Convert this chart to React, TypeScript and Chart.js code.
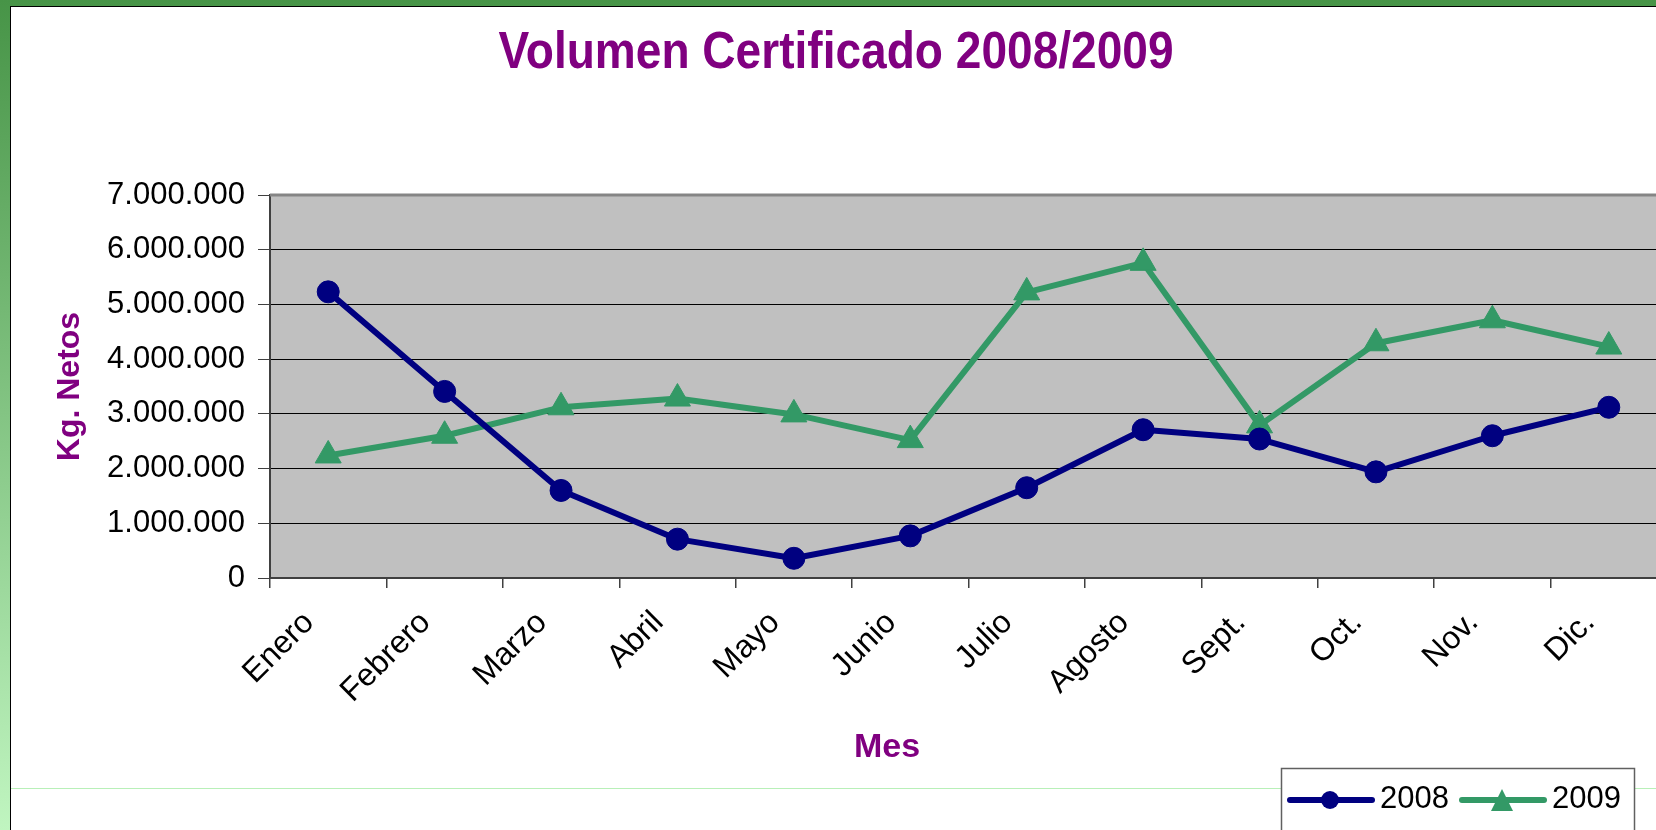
import React, { useEffect, useRef } from 'react';
import { Chart, registerables } from 'chart.js';

Chart.register(...registerables);

const months = ['Enero', 'Febrero', 'Marzo', 'Abril', 'Mayo', 'Junio', 'Julio', 'Agosto', 'Sept.', 'Oct.', 'Nov.', 'Dic.'];
const vol2008 = [5230000, 3410000, 1600000, 710000, 360000, 770000, 1650000, 2710000, 2540000, 1940000, 2600000, 3120000];
const vol2009 = [2240000, 2600000, 3120000, 3280000, 2990000, 2520000, 5220000, 5760000, 2790000, 4290000, 4710000, 4230000];
const seriesNames = ['2008', '2009'];
const yMin = 0;
const yMax = 7000000;
const yStep = 1000000;
const titleText = 'Volumen Certificado 2008/2009';
const yTitle = 'Kg. Netos';
const xTitle = 'Mes';

const FONT = '"Liberation Sans", Arial, Helvetica, sans-serif';
const NAVY = '#000080';
const GREEN = '#339966';
const PURPLE = '#800080';
const CW = 1700;
const CH = 823;

const fmt = (v: number) => String(Math.round(v)).replace(/\B(?=(\d{3})+(?!\d))/g, '.');

export default function App() {
  const ref = useRef<HTMLCanvasElement | null>(null);

  useEffect(() => {
    const canvas = ref.current;
    if (!canvas) return;

    const decor = {
      id: 'decor',
      beforeDraw(chart: any) {
        const { ctx, chartArea: a } = chart;
        ctx.save();
        ctx.fillStyle = '#c0c0c0';
        ctx.fillRect(a.left, a.top, a.right - a.left, a.bottom - a.top);
        ctx.restore();
      },
      beforeDatasetsDraw(chart: any) {
        const { ctx, chartArea: a } = chart;
        ctx.save();
        ctx.strokeStyle = '#858585';
        ctx.lineWidth = 3;
        ctx.beginPath();
        ctx.moveTo(a.left, a.top);
        ctx.lineTo(a.right, a.top);
        ctx.stroke();
        ctx.restore();
      },
      afterDraw(chart: any) {
        const ctx = chart.ctx as CanvasRenderingContext2D;
        // title
        ctx.save();
        ctx.fillStyle = PURPLE;
        ctx.font = `bold 52px ${FONT}`;
        ctx.textAlign = 'center';
        ctx.textBaseline = 'alphabetic';
        ctx.translate(825, 61);
        ctx.scale(0.886, 1);
        ctx.fillText(titleText, 0, 0);
        ctx.restore();

        // x axis title
        ctx.save();
        ctx.fillStyle = PURPLE;
        ctx.font = `bold 34px ${FONT}`;
        ctx.textAlign = 'center';
        ctx.textBaseline = 'alphabetic';
        ctx.fillText(xTitle, 876, 750);
        ctx.restore();

        // light green separator
        ctx.save();
        ctx.strokeStyle = '#b8f0b8';
        ctx.lineWidth = 1;
        ctx.beginPath();
        ctx.moveTo(0, 781.5);
        ctx.lineTo(CW, 781.5);
        ctx.stroke();
        ctx.restore();

        // legend box
        const bx = 1270, by = 761, bw = 353, bh = 90;
        ctx.save();
        ctx.fillStyle = '#ffffff';
        ctx.fillRect(bx, by, bw, bh);
        ctx.strokeStyle = '#606060';
        ctx.lineWidth = 1.5;
        ctx.strokeRect(bx + 0.5, by + 0.5, bw, bh);
        const ly = 793;
        chart.data.datasets.forEach((ds: any, i: number) => {
          const x0 = bx + 9 + i * 172;
          ctx.strokeStyle = ds.borderColor;
          ctx.lineWidth = 6;
          ctx.lineCap = 'round';
          ctx.beginPath();
          ctx.moveTo(x0, ly);
          ctx.lineTo(x0 + 82, ly);
          ctx.stroke();
          const cx = x0 + 40;
          ctx.fillStyle = ds.borderColor;
          ctx.beginPath();
          if (ds.pointStyle === 'triangle') {
            ctx.moveTo(cx, ly - 11);
            ctx.lineTo(cx + 11, ly + 11);
            ctx.lineTo(cx - 11, ly + 11);
            ctx.closePath();
          } else {
            ctx.arc(cx, ly, 9, 0, Math.PI * 2);
          }
          ctx.fill();
          ctx.fillStyle = '#000';
          ctx.font = `31px ${FONT}`;
          ctx.textAlign = 'left';
          ctx.textBaseline = 'alphabetic';
          ctx.fillText(ds.label, x0 + 90, 801);
        });
        ctx.restore();
      },
    };

    Chart.defaults.font.family = FONT;

    const chart = new Chart(canvas, {
      type: 'line',
      data: {
        labels: months,
        datasets: [
          {
            label: seriesNames[0],
            data: vol2008,
            borderColor: NAVY,
            backgroundColor: NAVY,
            borderWidth: 6,
            borderCapStyle: 'round',
            borderJoinStyle: 'round',
            pointStyle: 'circle',
            pointRadius: 11,
            pointBackgroundColor: NAVY,
            pointBorderColor: NAVY,
            pointBorderWidth: 1,
            tension: 0,
            fill: false,
          },
          {
            label: seriesNames[1],
            data: vol2009,
            borderColor: GREEN,
            backgroundColor: GREEN,
            borderWidth: 6,
            borderCapStyle: 'round',
            borderJoinStyle: 'round',
            pointStyle: 'triangle',
            pointRadius: 15,
            pointBackgroundColor: GREEN,
            pointBorderColor: GREEN,
            pointBorderWidth: 1,
            tension: 0,
            fill: false,
          },
        ],
      },
      options: {
        animation: false,
        responsive: false,
        events: [],
        layout: { padding: { top: 188, right: CW - 1656, bottom: 0, left: 0 } },
        plugins: {
          legend: { display: false },
          title: { display: false },
          tooltip: { enabled: false },
        },
        scales: {
          x: {
            type: 'category',
            offset: true,
            grid: {
              offset: true,
              drawOnChartArea: false,
              drawTicks: true,
              tickLength: 10,
              color: '#404040',
              lineWidth: 1.5,
            },
            border: { display: true, color: '#404040', width: 2 },
            ticks: {
              autoSkip: false,
              maxRotation: 45,
              minRotation: 45,
              labelOffset: -19,
              padding: 16,
              color: '#000',
              font: { size: 32 },
            },
            afterFit: (s: any) => {
              s.height = CH - 571;
            },
          },
          y: {
            min: yMin,
            max: yMax,
            grid: {
              color: '#000',
              lineWidth: 1,
              drawTicks: true,
              tickLength: 12,
              tickColor: '#404040',
            },
            border: { display: true, color: '#404040', width: 2 },
            ticks: {
              stepSize: yStep,
              padding: 13,
              color: '#000',
              font: { size: 31 },
              callback: (v: any) => fmt(Number(v)),
            },
            title: {
              display: true,
              text: yTitle,
              color: PURPLE,
              font: { size: 32, weight: 'bold' },
              padding: { top: 40, bottom: 0 },
            },
            afterFit: (s: any) => {
              s.width = 259;
            },
          },
        },
      } as any,
      plugins: [decor],
    });

    return () => {
      chart.destroy();
    };
  }, []);

  return (
    <div
      style={{
        position: 'fixed',
        left: 0,
        top: 0,
        width: 1656,
        height: 830,
        overflow: 'hidden',
        background: 'linear-gradient(to bottom, #479447, #c0f5c0)',
      }}
    >
      <div
        style={{
          position: 'absolute',
          left: 10,
          top: 6,
          width: 1800,
          height: 900,
          borderLeft: '1px solid #000',
          borderTop: '1px solid #000',
          background: '#fff',
        }}
      >
        <canvas ref={ref} width={CW} height={CH} style={{ display: 'block', width: CW, height: CH }} />
      </div>
    </div>
  );
}
